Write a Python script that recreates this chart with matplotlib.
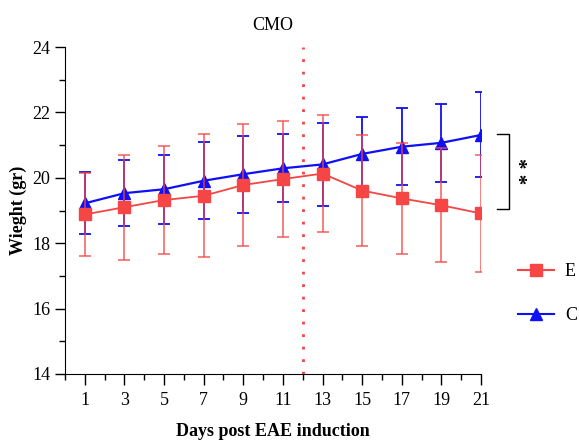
import matplotlib
matplotlib.use("Agg")
import matplotlib.pyplot as plt
from matplotlib.lines import Line2D
from matplotlib.ticker import MultipleLocator

plt.rcParams['font.family'] = ['Liberation Serif', 'DejaVu Serif']

days = [1, 3, 5, 7, 9, 11, 13, 15, 17, 19, 21]
e_mean = [18.88, 19.10, 19.32, 19.45, 19.78, 19.96, 20.13, 19.61, 19.37, 19.16, 18.91]
e_sd = [1.27, 1.60, 1.65, 1.88, 1.88, 1.78, 1.80, 1.70, 1.70, 1.74, 1.80]
c_mean = [19.22, 19.53, 19.65, 19.91, 20.11, 20.29, 20.41, 20.73, 20.95, 21.07, 21.31]
c_sd = [0.95, 1.00, 1.06, 1.18, 1.18, 1.04, 1.27, 1.14, 1.18, 1.20, 1.30]

red = '#f54545'
blue = '#1010f5'

fig = plt.figure(figsize=(5.79, 4.44), dpi=100)
ax = fig.add_axes([0.1123, 0.1577, 0.7184, 0.7364])

ax.axvline(12, color=red, ls=(0, (1, 3.5)), lw=2.0, zorder=1)

ax.errorbar(days, c_mean, yerr=c_sd, color=blue, marker='^', ms=9, lw=1.6,
            capsize=4, capthick=1.3, elinewidth=1.3, zorder=3)
ax.errorbar(days, e_mean, yerr=e_sd, color=red, marker='s', ms=8.5, lw=1.3,
            capsize=4, capthick=1.3, elinewidth=1.3, zorder=4,
            ecolor=(0.96, 0.27, 0.27, 0.75))

ax.set_xlim(0, 21)
ax.set_ylim(14, 24)
ax.set_xticks(days)
ax.xaxis.set_minor_locator(MultipleLocator(1))
ax.yaxis.set_major_locator(MultipleLocator(2))
ax.yaxis.set_minor_locator(MultipleLocator(1))
ax.tick_params(axis='x', which='major', length=8, width=1, labelsize=13, pad=5)
ax.tick_params(axis='x', which='minor', length=4, width=1)
ax.tick_params(axis='y', which='major', length=7, width=1, labelsize=13)
ax.tick_params(axis='y', which='minor', length=4, width=1)
for s in ['top', 'right']:
    ax.spines[s].set_visible(False)

ax.set_title('CMO', fontsize=13, pad=12)
ax.set_xlabel('Days post EAE induction', fontsize=13, fontweight='bold', labelpad=10)
ax.set_ylabel('Wieght (gr)', fontsize=13, fontweight='bold', labelpad=4)

# significance bracket
bx = 22.4
ax.plot([bx - 0.6, bx, bx, bx - 0.6], [21.34, 21.34, 19.05, 19.05],
        color='black', lw=1, clip_on=False)
ax.text(bx + 0.4, 20.2, '* *', rotation=-90, ha='center', va='center',
        fontsize=15, fontweight='bold', clip_on=False)

handles = [Line2D([], [], color=red, marker='s', ms=8, lw=1.5),
           Line2D([], [], color=blue, marker='^', ms=8, lw=1.5)]
fig.legend(handles, ['E', 'C'], loc='upper left',
           bbox_to_anchor=(518 / 579, 1 - 263 / 444), frameon=False,
           fontsize=13, labelspacing=1.5, handlelength=2.0,
           handletextpad=0.6, borderpad=0, borderaxespad=0)

fig.savefig('out.png', dpi=100)
